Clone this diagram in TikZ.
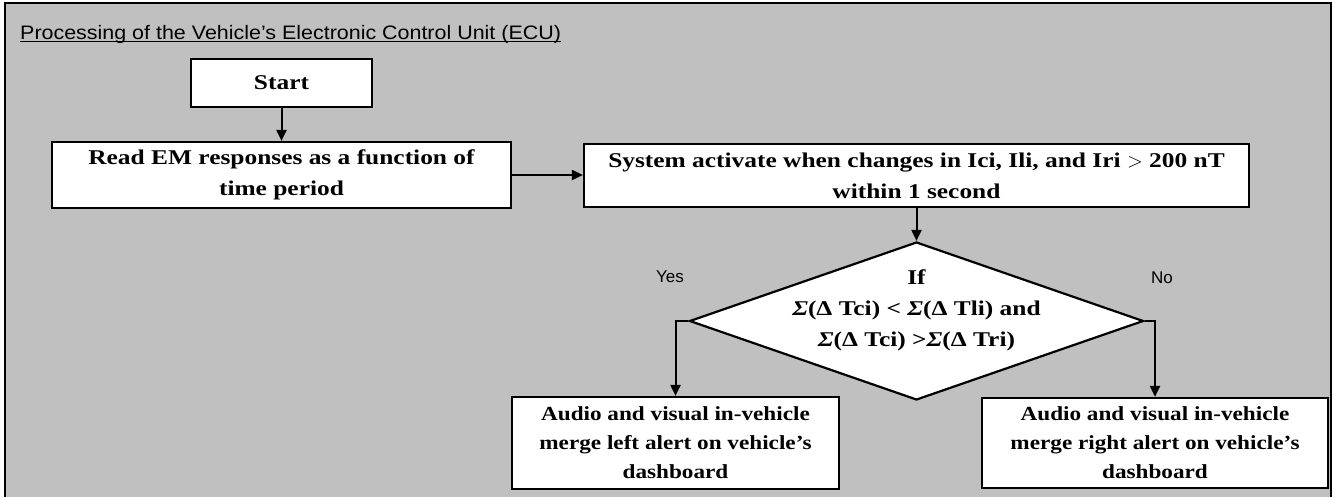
\documentclass[tikz,border=0pt]{standalone}
\usepackage{fontspec}
\usetikzlibrary{shapes.geometric,arrows.meta}
\newfontfamily\boxfont{Liberation Serif}[FakeStretch=1.21]
\newfontfamily\altfont{Liberation Serif}[FakeStretch=1.16]
\newfontfamily\titlefont{Liberation Sans}[FakeStretch=1.10]
\newfontfamily\labelfont{Liberation Sans}
\definecolor{bggray}{RGB}{192,192,192}
\tikzset{
  stepbox/.style={draw=black, line width=2.2pt, fill=white, inner sep=0pt, align=center,
    font=\boxfont\bfseries\fontsize{21}{31}\selectfont},
  alertbox/.style={stepbox, font=\altfont\bfseries\fontsize{20}{29}\selectfont},
  arr/.style={line width=2pt, -{Triangle[width=10pt,length=11pt]}},
  lbl/.style={inner sep=0pt, font=\labelfont\fontsize{17}{19}\selectfont}
}
\begin{document}
\begin{tikzpicture}[x=1pt,y=-1pt]
\useasboundingbox (0,0) rectangle (1334,496);
\fill[white] (0,0) rectangle (1334,496);
\draw[line width=2.5pt, fill=bggray] (5,3) rectangle (1331,510);

\node[anchor=base west, inner sep=0pt, font=\titlefont\fontsize{19.5}{22}\selectfont] (title) at (20,39)
  {Processing of the Vehicle’s Electronic Control Unit (ECU)};
\draw[line width=1.3pt] ([yshift=-2.8pt]title.base west) -- ([yshift=-2.8pt]title.base east);

\node[stepbox, minimum width=181pt, minimum height=48pt] (start) at (281.5,83) {Start};
\node[stepbox, minimum width=459pt, minimum height=66pt] (read) at (281.5,175)
  {Read EM responses as a function of\\time period};
\node[stepbox, minimum width=665pt, minimum height=63pt] (sys) at (916.5,175.5)
  {System activate when changes in Ici, Ili, and Iri $>$ 200 nT\\within 1 second};
\node[diamond, draw=black, line width=2.2pt, fill=white, inner sep=0pt,
  minimum width=454pt, minimum height=158pt] (dec) at (916.5,321) {};
\node[align=center, inner sep=0pt, font=\boxfont\bfseries\fontsize{21}{31}\selectfont] (dectext) at (916.5,310)
  {If\\\textit{Σ}(Δ Tci) < \textit{Σ}(Δ Tli) and\\\textit{Σ}(Δ Tci) >\textit{Σ}(Δ Tri)};
\node[alertbox, minimum width=327pt, minimum height=92pt] (lbox) at (675.5,443)
  {Audio and visual in-vehicle\\merge left alert on vehicle’s\\dashboard};
\node[alertbox, minimum width=346pt, minimum height=90pt] (rbox) at (1155,443)
  {Audio and visual in-vehicle\\merge right alert on vehicle’s\\dashboard};

\node[lbl] (yes) at (670,277) {Yes};
\node[lbl] (no) at (1162,278) {No};

\draw[arr] (start) -- (read);
\draw[arr] (read.east) -- (sys.west |- read.east);
\draw[arr] (sys) -- (dec);
\draw[arr] (dec.west) -| (lbox.north);
\draw[arr] (dec.east) -| (rbox.north);
\end{tikzpicture}
\end{document}
